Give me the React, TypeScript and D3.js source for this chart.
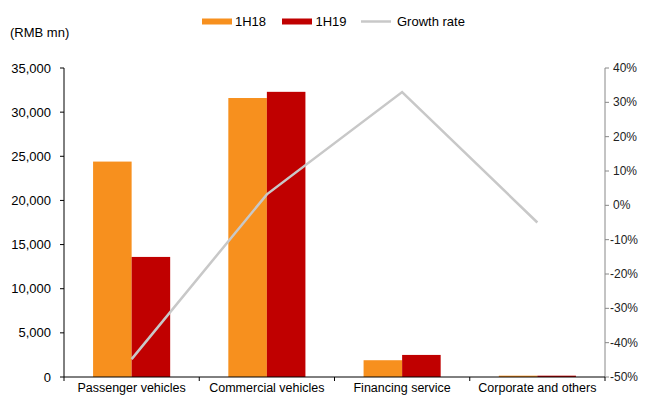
import React from "react";
import * as d3 from "d3";

const categories = ["Passenger vehicles", "Commercial vehicles", "Financing service", "Corporate and others"];
const series1H18 = [24400, 31600, 1900, 150];
const series1H19 = [13600, 32300, 2500, 150];
const growthRate = [-0.448, 0.032, 0.33, -0.05];
const leftTicks = [0, 5000, 10000, 15000, 20000, 25000, 30000, 35000];
const rightTicks = [-0.5, -0.4, -0.3, -0.2, -0.1, 0, 0.1, 0.2, 0.3, 0.4];

const W = 649, H = 396;
const left = 64, right = 605, top = 68, bottom = 377;
const FONT = "'Liberation Sans', Arial, sans-serif";
const ORANGE = "#F7901E", RED = "#C00000", GRAY = "#C8C8C8";

export default function App() {
  const x = d3.scaleBand<string>().domain(categories).range([left, right]).paddingInner(0).paddingOuter(0);
  const y = d3.scaleLinear().domain([0, 35000]).range([bottom, top]);
  const y2 = d3.scaleLinear().domain([-0.5, 0.4]).range([bottom, top]);
  const bw = x.bandwidth();
  const barW = bw * 0.285;
  const fmt = d3.format(",");
  const pct = (v: number) => `${Math.round(v * 100)}%`;
  const line = d3.line<number>()
    .x((_, i) => (x(categories[i]) as number) + bw / 2)
    .y((d) => y2(d));

  return (
    <svg width={W} height={H} style={{ position: "absolute", left: 0, top: 0, fontFamily: FONT }}>
      <rect width={W} height={H} fill="#fff" />
      {/* legend */}
      <g fontSize={13} fill="#000">
        <rect x={202} y={18.5} width={30} height={6} fill={ORANGE} />
        <text x={235} y={26}>1H18</text>
        <rect x={282} y={18.5} width={30} height={6} fill={RED} />
        <text x={315.5} y={26}>1H19</text>
        <line x1={361} x2={391} y1={21.5} y2={21.5} stroke={GRAY} strokeWidth={2.5} />
        <text x={397} y={26}>Growth rate</text>
      </g>
      <text x={10} y={37} fontSize={13}>(RMB mn)</text>
      {/* bars */}
      {categories.map((c, i) => {
        const cx = (x(c) as number) + bw / 2;
        return (
          <g key={c}>
            <rect x={cx - barW} y={y(series1H18[i])} width={barW} height={bottom - y(series1H18[i])} fill={ORANGE} />
            <rect x={cx} y={y(series1H19[i])} width={barW} height={bottom - y(series1H19[i])} fill={RED} />
          </g>
        );
      })}
      <path d={line(growthRate) as string} fill="none" stroke={GRAY} strokeWidth={2.5} />
      {/* left axis */}
      <line x1={left} x2={left} y1={top} y2={bottom} stroke="#000" />
      {leftTicks.map((t) => (
        <g key={t}>
          <line x1={left - 4} x2={left} y1={y(t)} y2={y(t)} stroke="#000" />
          <text x={51} y={y(t) + 4.5} textAnchor="end" fontSize={13}>{fmt(t)}</text>
        </g>
      ))}
      {/* right axis */}
      <line x1={right} x2={right} y1={top} y2={bottom} stroke="#888" />
      {rightTicks.map((t) => (
        <g key={t}>
          <line x1={right} x2={right + 4} y1={y2(t)} y2={y2(t)} stroke="#888" />
          <text x={t < 0 ? 610 : 613} y={y2(t) + 4} fontSize={12} fill="#222">{pct(t)}</text>
        </g>
      ))}
      {/* x axis */}
      <line x1={left} x2={right} y1={bottom} y2={bottom} stroke="#000" />
      {[...categories.map((c) => x(c) as number), right].map((px, i) => (
        <line key={i} x1={px} x2={px} y1={bottom} y2={bottom + 4} stroke="#000" />
      ))}
      {categories.map((c) => (
        <text key={c} x={(x(c) as number) + bw / 2} y={392} textAnchor="middle" fontSize={12.5}>{c}</text>
      ))}
    </svg>
  );
}
